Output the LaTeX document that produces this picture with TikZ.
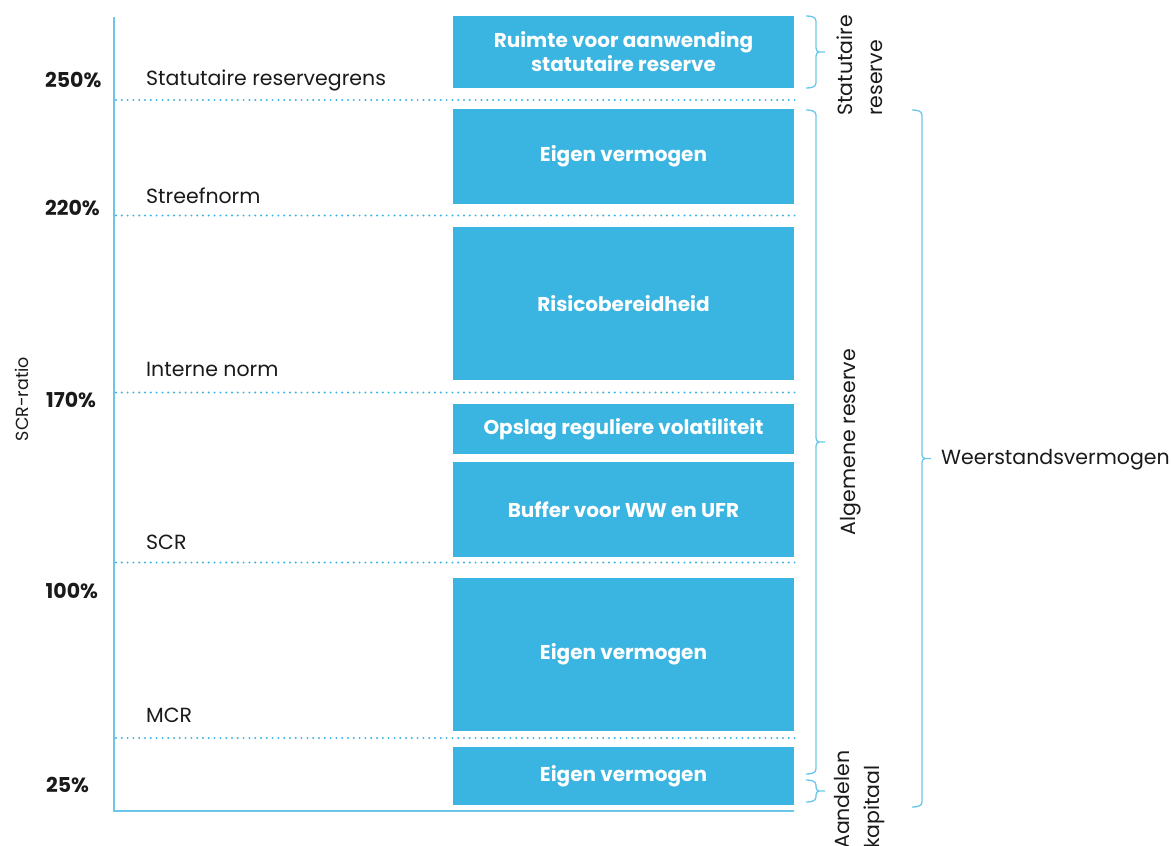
\documentclass[tikz,border=0pt]{standalone}
\usepackage{fontspec}
\setmainfont{Poppins}
\usetikzlibrary{calc}
\definecolor{boxblue}{HTML}{3AB4E0}
\definecolor{lineblue}{HTML}{6CC6EA}
\definecolor{txt}{HTML}{1A1A1A}
% right-facing square brace: #1 top coordinate, #2 bottom coordinate (same x)
\newcommand\sqbrace[2]{%
  \draw[brc] (#1) to[out=0,in=90] ($(#1)+(10,5)$)
    -- ($($(#1)!0.5!(#2)$)+(10,-4)$) to[out=-90,in=180] ($($(#1)!0.5!(#2)$)+(13,0)$)
    -- ($($(#1)!0.5!(#2)$)+(19,0)$);
  \draw[brc] (#2) to[out=0,in=-90] ($(#2)+(10,-5)$)
    -- ($($(#1)!0.5!(#2)$)+(10,4)$) to[out=90,in=180] ($($(#1)!0.5!(#2)$)+(13,0)$);
}
\begin{document}
\begin{tikzpicture}[x=1pt,y=-1pt,
  bar/.style={fill=boxblue, draw=none, minimum width=341pt, inner sep=0pt, text=white,
    font=\fontsize{20}{24}\selectfont\bfseries, align=center},
  lvl/.style={anchor=west, text=txt, font=\fontsize{20.5}{24}\selectfont, inner sep=0pt},
  pct/.style={anchor=west, text=txt, font=\fontsize{20.5}{24}\selectfont\bfseries, inner sep=0pt},
  dotline/.style={draw=boxblue, line width=2.2pt, line cap=round, dash pattern=on 0pt off 5.8pt},
  axis/.style={draw=lineblue, line width=1.5pt},
  brc/.style={draw=lineblue, line width=1.3pt},
  side/.style={text=txt, font=\fontsize{20.5}{30}\selectfont, inner sep=0pt, rotate=90}]
\useasboundingbox (0,0) rectangle (1173,846);

% axis
\coordinate (atop) at (114,17);
\coordinate (aorig) at (114,811);
\coordinate (aend) at (794,811);
\draw[axis] (atop) -- (aorig) -- (aend);
\node[side, font=\fontsize{17.5}{20}\selectfont] (ratio) at (22,399) {SCR-ratio};

% bars
\node[bar, minimum height=72pt] (b1) at (623.5,52) {Ruimte voor aanwending\\statutaire reserve};
\node[bar, minimum height=95pt] (b2) at (623.5,156.5) {Eigen vermogen};
\node[bar, minimum height=153pt] (b3) at (623.5,303.5) {Risicobereidheid};
\node[bar, minimum height=50pt] (b4) at (623.5,429) {Opslag reguliere volatiliteit};
\node[bar, minimum height=95pt] (b5) at (623.5,509.5) {Buffer voor WW en UFR};
\node[bar, minimum height=153pt] (b6) at (623.5,654.5) {Eigen vermogen};
\node[bar, minimum height=58pt] (b7) at (623.5,776) {Eigen vermogen};

% dotted levels
\foreach \n/\y in {l1/100, l2/215.5, l3/392.5, l4/562.5, l5/738} {
  \coordinate (\n a) at (116,\y);
  \coordinate (\n b) at (795,\y);
  \draw[dotline] (\n a) -- (\n b);
}

% level labels
\node[lvl] (t1) at (146,80) {Statutaire reservegrens};
\node[lvl] (t2) at (146,196) {Streefnorm};
\node[lvl] (t3) at (146,369) {Interne norm};
\node[lvl] (t4) at (146,542) {SCR};
\node[lvl] (t5) at (146,715) {MCR};

% percentages
\node[pct] (p1) at (45,80) {250\%};
\node[pct] (p2) at (45,208) {220\%};
\node[pct] (p3) at (46,400) {170\%};
\node[pct] (p4) at (45.5,591) {100\%};
\node[pct] (p5) at (46,785) {25\%};

% braces
\coordinate (s1) at (806,16);  \coordinate (e1) at (806,88);
\coordinate (s2) at (806,110); \coordinate (e2) at (806,774);
\coordinate (s3) at (806,780); \coordinate (e3) at (806,802);
\coordinate (s4) at (912,110); \coordinate (e4) at (912,807);
\sqbrace{s1}{e1}
\sqbrace{s2}{e2}
\sqbrace{s3}{e3}
\sqbrace{s4}{e4}

% side labels
\node[side, anchor=west, align=left] (n1) at (860,116) {Statutaire\\reserve};
\node[side] (n2) at (851,442) {Algemene reserve};
\node[side, anchor=west, align=left] (n3) at (860,849) {Aandelen\\kapitaal};
\node[anchor=west, text=txt, font=\fontsize{20.5}{24}\selectfont, inner sep=0pt] (n4) at (941,460) {Weerstandsvermogen};
\end{tikzpicture}
\end{document}
